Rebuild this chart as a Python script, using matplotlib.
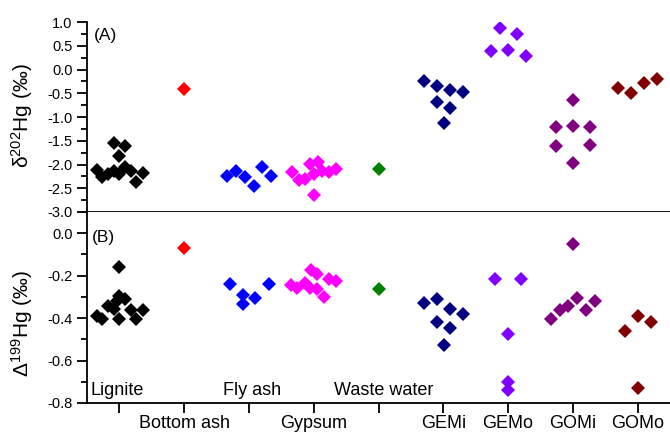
import matplotlib
matplotlib.use('Agg')
import matplotlib.pyplot as plt
from matplotlib.ticker import MultipleLocator

plt.rcParams['font.family'] = ['Liberation Sans', 'DejaVu Sans']
plt.rcParams['mathtext.fontset'] = 'custom'
plt.rcParams['mathtext.rm'] = 'Liberation Sans'
plt.rcParams['mathtext.default'] = 'regular'

colors = ['black', '#ff0000', '#0000ff', '#ff00ff', '#008000',
          '#000080', '#8000ff', '#800080', '#800000']

# panel A: delta 202Hg
a_x = [
    [0.655, 0.73, 0.82, 0.91, 0.91, 1.0, 1.0, 1.09, 1.09, 1.18, 1.26, 1.36],
    [2.0],
    [2.66, 2.80, 2.94, 3.07, 3.20, 3.34],
    [3.66, 3.77, 3.87, 3.94, 4.0, 4.0, 4.06, 4.12, 4.23, 4.35],
    [5.0],
    [5.70, 5.91, 6.10, 6.31, 5.91, 6.10, 6.01],
    [6.87, 7.14, 6.74, 7.0, 7.28],
    [8.0, 7.74, 8.0, 8.26, 7.74, 8.26, 8.0],
    [8.70, 8.90, 9.10, 9.30],
]
a_y = [
    [-2.12, -2.27, -2.20, -2.13, -1.55, -2.20, -1.82, -1.62, -2.06, -2.13, -2.37, -2.17],
    [-0.41],
    [-2.24, -2.14, -2.27, -2.45, -2.06, -2.24],
    [-2.16, -2.32, -2.31, -1.99, -2.19, -2.64, -1.95, -2.13, -2.15, -2.10],
    [-2.10],
    [-0.235, -0.35, -0.43, -0.47, -0.69, -0.80, -1.13],
    [0.87, 0.75, 0.39, 0.41, 0.29],
    [-0.64, -1.20, -1.19, -1.20, -1.61, -1.58, -1.97],
    [-0.38, -0.49, -0.28, -0.19],
]

# panel B: Delta 199Hg
b_x = [
    [0.655, 0.73, 0.83, 0.91, 0.96, 1.0, 1.0, 1.0, 1.09, 1.18, 1.26, 1.36],
    [2.0],
    [2.70, 2.90, 2.90, 3.10, 3.31],
    [3.65, 3.74, 3.86, 3.94, 3.95, 4.05, 4.05, 4.16, 4.24, 4.35],
    [5.0],
    [5.70, 5.90, 6.10, 6.31, 5.90, 6.10, 6.01],
    [6.80, 7.20, 7.0, 7.0, 7.0],
    [8.0, 7.67, 7.80, 7.93, 8.07, 8.20, 8.34],
    [8.80, 9.0, 9.21, 9.0],
]
b_y = [
    [-0.390, -0.404, -0.345, -0.358, -0.32, -0.158, -0.295, -0.405, -0.31, -0.36, -0.405, -0.36],
    [-0.068],
    [-0.238, -0.290, -0.335, -0.304, -0.237],
    [-0.245, -0.257, -0.236, -0.258, -0.175, -0.193, -0.265, -0.300, -0.218, -0.225],
    [-0.265],
    [-0.328, -0.312, -0.355, -0.380, -0.418, -0.446, -0.525],
    [-0.215, -0.215, -0.473, -0.700, -0.738],
    [-0.052, -0.402, -0.360, -0.341, -0.305, -0.360, -0.320],
    [-0.462, -0.391, -0.418, -0.730],
]

tick_labels = ['', 'Bottom ash', '', 'Gypsum', '', 'GEMi', 'GEMo', 'GOMi', 'GOMo']
inner_labels = ['Lignite', 'Fly ash', 'Waste water']
inner_x = [0.56, 3.04, 5.08]

fig = plt.figure(figsize=(6.7, 4.33), dpi=100)
ax1 = fig.add_axes([0.13, 0.5104, 0.87, 0.4387])
ax2 = fig.add_axes([0.13, 0.0693, 0.87, 0.4411])

for i in range(len(colors)):
    ax1.plot(a_x[i], a_y[i], 'D', color=colors[i], ms=7.3, mew=0)
    ax2.plot(b_x[i], b_y[i], 'D', color=colors[i], ms=7.3, mew=0)

for ax in (ax1, ax2):
    ax.set_xlim(0.5, 9.5)
    ax.set_xticks(range(1, 10))
    ax.spines['right'].set_visible(False)
    ax.spines['top'].set_visible(False)
    for s in ('left', 'bottom'):
        ax.spines[s].set_linewidth(1.3)
    ax.tick_params(axis='both', which='major', direction='out', length=7,
                   width=1.3, labelsize=10.5)
    ax.tick_params(axis='y', which='minor', direction='out', length=4, width=1.3)
    ax.tick_params(axis='x', which='major', pad=2)

ax1.set_ylim(-3.0, 1.0)
ax1.set_yticks([-3.0, -2.5, -2.0, -1.5, -1.0, -0.5, 0.0, 0.5, 1.0])
ax1.set_yticklabels(['-3.0', '-2.5', '-2.0', '-1.5', '-1.0', '-0.5', '0.0', '0.5', '1.0'])
ax1.yaxis.set_minor_locator(MultipleLocator(0.25))
ax1.set_xticklabels([])
ax1.set_ylabel('δ$^{202}$Hg (‰)', fontsize=15)
ax1.yaxis.set_label_coords(-0.09, 0.505)
ax1.text(0.6, 0.62, '(A)', fontsize=12.5)

ax2.set_ylim(-0.8, 0.1)
ax2.set_yticks([-0.8, -0.6, -0.4, -0.2, 0.0])
ax2.set_yticklabels(['-0.8', '-0.6', '-0.4', '-0.2', '0.0'])
ax2.yaxis.set_minor_locator(MultipleLocator(0.1))
ax2.set_xticklabels(tick_labels, fontsize=13)
ax2.set_ylabel('Δ$^{199}$Hg (‰)', fontsize=15)
ax2.yaxis.set_label_coords(-0.09, 0.416)
ax2.text(0.58, -0.04, '(B)', fontsize=12.5)
for lab, xx in zip(inner_labels, inner_x):
    ax2.text(xx, -0.74, lab, fontsize=13, va='center',
             ha='left' if lab == 'Lignite' else 'center')

fig.savefig('out.png', dpi=100)
